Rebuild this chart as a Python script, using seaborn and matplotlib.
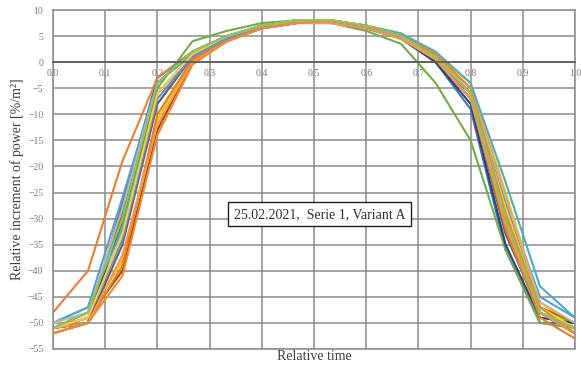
import numpy as np
import pandas as pd
import matplotlib
matplotlib.use("Agg")
import matplotlib.pyplot as plt
import seaborn as sns

# Relative time points (16 samples)
rel_time = [0.0, 0.067, 0.133, 0.2, 0.267, 0.333, 0.4, 0.467, 0.533, 0.6, 0.667, 0.733, 0.8, 0.867, 0.933, 1.0]

s01 = [-51, -50, -27, -3, 2, 5, 7, 8, 8, 7, 5, 0, -9, -36, -50, -50]
s02 = [-48, -40, -19, -3, 2, 5, 7, 7.5, 7.5, 6.5, 4.5, 0, -7, -30, -48, -52]
s03 = [-51, -49, -33, -8, 1, 4.5, 6.5, 7.5, 8, 7, 5, 1, -6, -28, -47, -52]
s04 = [-51, -49, -38, -11, 0.5, 4, 6.5, 7.5, 8, 7, 5.5, 1.5, -4, -25, -46, -51]
s05 = [-50, -47, -26, -4, 1.5, 5, 7, 8, 8, 7, 5, 1, -6, -27, -45, -49]
s06 = [-51, -48, -31, -5, 4, 6, 7.5, 8, 7.5, 6, 3.5, -4, -15, -36, -50, -51]
s07 = [-51, -50, -30, -4, 2, 5, 7, 8, 8, 6.5, 4.5, 0, -8, -35, -49, -50]
s08 = [-51, -49, -40, -13, 0, 4, 6.5, 7.5, 8, 7, 5, 1, -6, -31, -48, -52]
s09 = [-52, -50, -35, -8, 1, 4.5, 7, 8, 8, 7, 5, 1, -7, -33, -48, -52]
s10 = [-51, -48, -29, -6, 1.5, 5, 7, 8, 8, 7, 5, 1.5, -5, -26, -47, -50]
s11 = [-52, -50, -39, -10, 0.5, 4, 6.5, 7.5, 7.5, 6.5, 4.5, 0.5, -7, -32, -49, -53]
s12 = [-50, -47, -32, -6, 1, 4.5, 7, 8, 8, 7, 5.5, 2, -4, -23, -43, -49]
s13 = [-51, -49, -34, -7, 1, 4.5, 6.5, 7.5, 8, 7, 5, 1, -6, -29, -48, -51]
s14 = [-51, -50, -37, -12, 0, 4, 6.5, 7.5, 7.5, 6.5, 4.5, 0.5, -7, -31, -48, -52]
s15 = [-50, -48, -28, -4, 2, 5, 7, 8, 8, 7, 5, 1, -5, -26, -46, -50]
s16 = [-51, -49, -33, -6, 1.5, 5, 7, 8, 8, 7, 5, 1, -6, -28, -47, -51]
s17 = [-52, -50, -41, -14, -0.5, 4, 6.5, 7.5, 8, 7, 5, 1.5, -5, -29, -47, -52]
s18 = [-51, -48, -30, -4, 2, 5, 7, 8, 8, 7, 5, 1, -6, -30, -48, -51]

series = [s01, s02, s03, s04, s05, s06, s07, s08, s09, s10, s11, s12, s13, s14, s15, s16, s17, s18]
colors = ["#4472C4", "#ED7D31", "#A5A5A5", "#FFC000", "#5B9BD5", "#70AD47",
          "#264478", "#9E480E", "#636363", "#997300", "#E67E22", "#4BACC6",
          "#698ED0", "#F1975A", "#B7B7B7", "#FFCD33", "#F08A2A", "#8CC168"]

x_ticks = [0.0, 0.1, 0.2, 0.3, 0.4, 0.5, 0.6, 0.7, 0.8, 0.9, 1.0]
x_labels = ["0.0", "0.1", "0.2", "0.3", "0.4", "0.5", "0.6", "0.7", "0.8", "0.9", "1.0"]
y_ticks = list(range(-55, 11, 5))

rows = []
for i, s in enumerate(series):
    for t, v in zip(rel_time, s):
        rows.append({"t": t, "v": v, "run": f"r{i+1:02d}"})
df = pd.DataFrame(rows)

sns.set_theme(style="white")
plt.rcParams["font.family"] = ["Liberation Serif", "DejaVu Serif"]

fig = plt.figure(figsize=(5.81, 3.72), dpi=100)
ax = fig.add_axes([53/581, 1-349/372, 522/581, 339/372])

sns.lineplot(data=df, x="t", y="v", hue="run", palette=colors, sort=False,
             estimator=None, legend=False, linewidth=1.5, ax=ax)

ax.set_xlim(0, 1)
ax.set_ylim(-55, 10)
ax.set_xticks(x_ticks)
ax.set_xticklabels(x_labels)
ax.set_yticks(y_ticks)
ax.grid(True, color="#8c8c8c", linewidth=1.1)
ax.set_axisbelow(True)
ax.spines["bottom"].set_position(("data", 0))
ax.spines["bottom"].set_color("#595959")
ax.spines["bottom"].set_linewidth(1.2)
for sp in ["top", "right", "left"]:
    ax.spines[sp].set_color("#8c8c8c")
    ax.spines[sp].set_linewidth(1.1)
ax.axhline(-55, color="#8c8c8c", linewidth=1.1, clip_on=False, zorder=0)
ax.tick_params(axis="both", length=0, labelsize=7, labelcolor="#7a7a7a", pad=5)
ax.tick_params(axis="y", pad=7)

ax.set_xlabel("")
ax.set_ylabel("Relative increment of power [%/m²]", fontsize=10, color="#404040", labelpad=3)
fig.text((53 + 522*0.5)/581, 1-357/372, "Relative time", ha="center", va="center",
         fontsize=10, color="#404040")

ax.text(0.511, -29.2, "25.02.2021,  Serie 1, Variant A", ha="center", va="center",
        fontsize=10, color="#303030",
        bbox=dict(boxstyle="square,pad=0.4", facecolor="white", edgecolor="#202020", linewidth=1.0),
        zorder=5)

fig.savefig("out.png", dpi=100)
